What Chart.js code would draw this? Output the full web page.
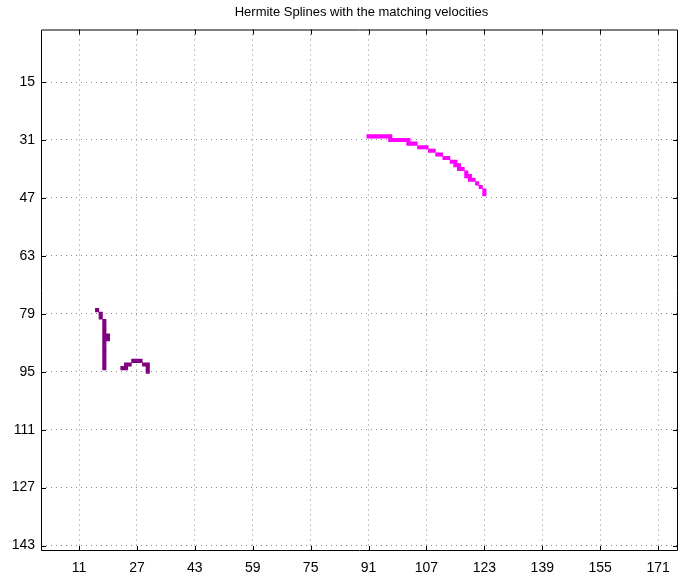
<!DOCTYPE html>
<html>
<head>
<meta charset="utf-8">
<style>
  body { margin: 0; background: #fff; }
  canvas { display: block; }
</style>
<script src="https://cdn.jsdelivr.net/npm/chart.js@4.4.1/dist/chart.umd.min.js"></script>
</head>
<body>
<canvas id="myChart" width="686" height="574"></canvas>
<script>
const chartTitle = "Hermite Splines with the matching velocities";
const xTicks = [11, 27, 43, 59, 75, 91, 107, 123, 139, 155, 171];
const yTicks = [15, 31, 47, 63, 79, 95, 111, 127, 143];

// dark purple curve (image pixels)
const darkX = [16, 17, 17, 18, 18, 18, 18, 18, 18, 18, 18, 18, 18, 18, 18, 18, 18, 19, 19,
  23, 24, 24, 25, 26, 27, 28, 29, 30, 30, 30];
const darkY = [78, 79, 80, 81, 82, 83, 84, 85, 86, 87, 88, 89, 90, 91, 92, 93, 94, 85, 86,
  94, 94, 93, 93, 92, 92, 92, 93, 93, 94, 95];

// magenta curve (image pixels)
const magentaX = [91, 92, 93, 94, 95, 96, 97, 97, 98, 99, 100, 101, 102, 102, 103, 104,
  105, 106, 107, 108, 109, 110, 111, 112, 113, 114, 115, 115, 116, 116, 117, 118, 118, 119,
  119, 120, 121, 122, 123, 123];
const magentaY = [30, 30, 30, 30, 30, 30, 30, 31, 31, 31, 31, 31, 31, 32, 32, 32,
  33, 33, 33, 34, 34, 35, 35, 36, 36, 37, 37, 38, 38, 39, 39, 40, 41, 41,
  42, 42, 43, 44, 45, 46];

const toPoints = (xs, ys) => xs.map((x, i) => ({ x: x, y: ys[i] }));

// matlab-ish axes box, inward ticks and title
const boxPlugin = {
  id: "box",
  afterDraw(chart) {
    const { ctx, chartArea: a, scales } = chart;
    ctx.save();
    ctx.strokeStyle = "#000";
    ctx.lineWidth = 1;
    ctx.beginPath();
    ctx.rect(a.left + 0.5, a.top + 0.5, a.right - a.left - 1, a.bottom - a.top - 1);
    const len = 5;
    xTicks.forEach(v => {
      const px = Math.round(scales.x.getPixelForValue(v)) + 0.5;
      ctx.moveTo(px, a.bottom); ctx.lineTo(px, a.bottom - len);
      ctx.moveTo(px, a.top); ctx.lineTo(px, a.top + len);
    });
    yTicks.forEach(v => {
      const py = Math.round(scales.y.getPixelForValue(v)) + 0.5;
      ctx.moveTo(a.left, py); ctx.lineTo(a.left + len, py);
      ctx.moveTo(a.right, py); ctx.lineTo(a.right - len, py);
    });
    ctx.stroke();

    ctx.fillStyle = "#000";
    ctx.font = "13px 'Liberation Sans'";
    ctx.textAlign = "center";
    ctx.textBaseline = "middle";
    ctx.fillText(chartTitle, (a.left + a.right) / 2 + 2, 12);
    ctx.restore();
  }
};

const ctx = document.getElementById("myChart");

const myChart = new Chart(ctx, {
  type: "scatter",
  data: {
    datasets: [
      {
        label: "curve 1",
        data: toPoints(darkX, darkY),
        pointBackgroundColor: "#800080",
        pointStyle: "rect",
        pointRadius: 2.9,
        pointBorderWidth: 0,
      },
      {
        label: "curve 2",
        data: toPoints(magentaX, magentaY),
        pointBackgroundColor: "#ff00ff",
        pointStyle: "rect",
        pointRadius: 2.9,
        pointBorderWidth: 0,
      },
    ],
  },
  options: {
    responsive: false,
    animation: false,
    events: [],
    layout: { padding: { top: 29.5, right: 8, left: 0, bottom: 0 } },
    plugins: {
      legend: { display: false },
      tooltip: { enabled: false },
      title: { display: false },
    },
    scales: {
      x: {
        type: "linear",
        min: 0.5,
        max: 176.5,
        afterBuildTicks: s => { s.ticks = xTicks.map(v => ({ value: v })); },
        afterFit: s => { s.height = 23; },
        grid: { color: "#888", drawTicks: false },
        border: { display: false, dash: [1, 4] },
        ticks: {
          color: "#000",
          padding: 9,
          maxRotation: 0,
          font: { family: "Liberation Sans", size: 14 },
        },
      },
      y: {
        type: "linear",
        reverse: true,
        min: 0.5,
        max: 144.5,
        afterBuildTicks: s => { s.ticks = yTicks.map(v => ({ value: v })); },
        afterFit: s => { s.width = 41; },
        grid: { color: "#888", drawTicks: false },
        border: { display: false, dash: [1, 4] },
        ticks: {
          color: "#000",
          padding: 6,
          font: { family: "Liberation Sans", size: 14 },
        },
      },
    },
  },
  plugins: [boxPlugin],
});
</script>
</body>
</html>
